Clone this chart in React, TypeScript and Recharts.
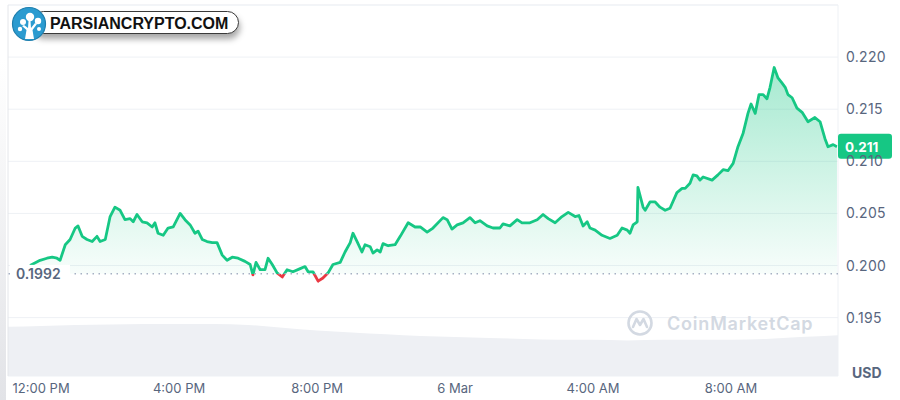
import React from 'react';
import {
  ComposedChart,
  Area,
  XAxis,
  YAxis,
  CartesianGrid,
  ReferenceLine,
} from 'recharts';

// hours after 12:00 PM (5 Mar) and price in USD
const priceHours = [
  -0.32, -0.03, 0.17, 0.32, 0.46, 0.55, 0.7, 0.84, 0.99, 1.07, 1.19, 1.33, 1.48, 1.62, 1.71, 1.86,
  2.0, 2.14, 2.29, 2.43, 2.58, 2.67, 2.78, 2.93, 3.07, 3.22, 3.3, 3.39, 3.54, 3.68, 3.83,
  4.03, 4.17, 4.32, 4.46, 4.55, 4.67, 4.81, 4.96, 5.1, 5.25, 5.39, 5.54, 5.71, 5.91,
  6.06, 6.14, 6.23, 6.35, 6.49, 6.58, 6.7, 6.84, 6.99, 7.13, 7.3, 7.51, 7.65, 7.74, 7.88,
  8.03, 8.17, 8.32, 8.46, 8.67, 8.81, 8.96, 9.04, 9.16, 9.3, 9.39, 9.54, 9.62, 9.74, 9.83, 9.91,
  10.06, 10.26, 10.41, 10.64, 10.84, 10.99, 11.19, 11.36, 11.65, 11.77, 11.91,
  12.06, 12.23, 12.43, 12.58, 12.72, 12.93, 13.1, 13.3, 13.39, 13.59, 13.8, 13.94,
  14.17, 14.38, 14.55, 14.7, 14.9, 15.1, 15.28, 15.48, 15.59, 15.71, 15.83, 15.91,
  16.06, 16.26, 16.49, 16.7, 16.84, 16.99, 17.07, 17.16, 17.28, 17.3, 17.45, 17.51, 17.65, 17.8, 17.94,
  18.09, 18.23, 18.43, 18.58, 18.67, 18.81, 18.9, 19.01, 19.1, 19.19, 19.45, 19.62, 19.77, 19.91,
  20.06, 20.2, 20.35, 20.49, 20.58, 20.7, 20.81, 20.93, 21.04, 21.13, 21.25, 21.36, 21.48, 21.57, 21.65, 21.77, 21.91,
  22.06, 22.23, 22.43, 22.58, 22.72, 22.81, 22.96, 23.07,
];

const priceValues = [
  0.2, 0.2005, 0.2007, 0.2008, 0.2007, 0.2005, 0.202, 0.2025, 0.2036, 0.2038, 0.2028, 0.2025, 0.2023, 0.2028, 0.2023, 0.2025,
  0.2047, 0.2056, 0.2053, 0.2044, 0.2045, 0.2042, 0.2049, 0.2042, 0.2041, 0.2037, 0.2041, 0.2031, 0.2029, 0.2036, 0.2037,
  0.205, 0.2044, 0.2039, 0.2031, 0.2033, 0.2025, 0.2023, 0.2022, 0.2022, 0.201, 0.2005, 0.2008, 0.2007, 0.2004,
  0.2001, 0.1991, 0.2003, 0.1996, 0.1996, 0.2007, 0.2001, 0.1993, 0.1989, 0.1996, 0.1994, 0.1997, 0.1999, 0.1994, 0.1994,
  0.1985, 0.1988, 0.1993, 0.2001, 0.2003, 0.2013, 0.2022, 0.2031, 0.2023, 0.2013, 0.202, 0.2018, 0.2012, 0.2015, 0.2013, 0.2021,
  0.2019, 0.202, 0.2028, 0.2041, 0.2037, 0.2037, 0.2032, 0.2036, 0.2046, 0.2044, 0.2035,
  0.2039, 0.2041, 0.2046, 0.2041, 0.2043, 0.2038, 0.2036, 0.2036, 0.204, 0.2038, 0.2044, 0.2041,
  0.2041, 0.2044, 0.2049, 0.2045, 0.2041, 0.2047, 0.2051, 0.2047, 0.2048, 0.2038, 0.2042, 0.2036,
  0.2034, 0.2029, 0.2026, 0.2029, 0.2036, 0.2034, 0.2031, 0.2039, 0.2042, 0.2075, 0.2056, 0.2053, 0.2061, 0.2061, 0.2056,
  0.2053, 0.2055, 0.207, 0.2074, 0.2074, 0.2079, 0.2087, 0.2086, 0.2082, 0.2085, 0.2082, 0.2087, 0.2092, 0.2091,
  0.2098, 0.2114, 0.2127, 0.2146, 0.2155, 0.2146, 0.2164, 0.2164, 0.216, 0.2171, 0.219, 0.218, 0.2175, 0.2171, 0.2164, 0.2161, 0.2151,
  0.2147, 0.2138, 0.2142, 0.2138, 0.2122, 0.2114, 0.2116, 0.2114,
];

// 24h volume, millions USD
const volumeHours = [-0.96, 0, 1, 2, 3, 4, 5, 6, 7, 8, 9, 10, 11, 12, 13, 14, 15, 16, 17, 18, 19, 20, 21, 22, 23.1];
const volumeValues = [26.5, 27, 27.5, 27.8, 28, 28, 28, 27.5, 26, 24.5, 23.5, 22.5, 21.5, 21, 20.5, 20, 19.5, 19.5, 19.2, 19.5, 19.5, 19.5, 20, 21, 22];

const timeTicks = [0, 4, 8, 12, 16, 20];
const timeLabels = ['12:00 PM', '4:00 PM', '8:00 PM', '6 Mar', '4:00 AM', '8:00 AM'];
const priceTicks = [0.195, 0.2, 0.205, 0.21, 0.215, 0.22];
const openPrice = 0.1992;
const openLabel = '0.1992';
const lastLabel = '0.211';

const priceData = priceHours.map((t, i) => ({ t, price: priceValues[i] }));
const volumeData = volumeHours.map((t, i) => ({ t, vol: volumeValues[i] }));
const lastPrice = priceValues[priceValues.length - 1];

const GREEN = '#16c784';
const RED = '#ea3943';
const GRAY = '#58667e';

const maxP = Math.max(...priceValues);
const minP = Math.min(...priceValues);
const split = (maxP - openPrice) / (maxP - minP);

const OpenLabel = (props: any) => {
  const { viewBox } = props;
  const y = viewBox.y;
  return (
    <g>
      <rect x={viewBox.x + 2} y={y - 9} width={60} height={18} fill="#fff" />
      <text x={viewBox.x + 8} y={y} dy={5} fill={GRAY} fontSize={14} fontWeight={600} fontFamily="Inter">
        {openLabel}
      </text>
    </g>
  );
};

const LastBadge = (props: any) => {
  const { viewBox } = props;
  const x = viewBox.x + viewBox.width;
  const y = viewBox.y;
  return (
    <g>
      <rect x={x} y={y - 13} width={54} height={25} rx={3} fill={GREEN} />
      <text x={x + 7} y={y} dy={5} fill="#fff" fontSize={13.5} fontWeight={700} fontFamily="Inter">
        {lastLabel}
      </text>
    </g>
  );
};

const Logo = () => (
  <div style={{ position: 'absolute', left: 10, top: 3, width: 240, height: 46 }}>
    <div
      style={{
        position: 'absolute',
        left: 22,
        top: 8,
        width: 205,
        height: 21,
        border: '1.5px solid #3a3a3a',
        borderRadius: 12,
        background: '#fff',
        boxShadow: '1px 5px 6px rgba(0,0,0,0.35)',
      }}
    />
    <svg width={40} height={42} style={{ position: 'absolute', left: 1, top: 3 }}>
      <circle cx={18} cy={18} r={16.5} fill="#2b9bd0" stroke="#1f7fae" strokeWidth={1.2} />
      <path d="M14 33 L15.5 24 L11 20 L13 19 L17 22 L17.5 15 L19.5 15 L20 22 L24 17 L26 18 L21.5 24 L23 33 Z" fill="#fff" />
      <circle cx={12} cy={16} r={3} fill="#fff" />
      <circle cx={19} cy={11} r={4.2} fill="#fff" />
      <circle cx={27} cy={15} r={3.2} fill="#fff" />
      <circle cx={9} cy={23} r={2.2} fill="#fff" />
      <circle cx={28} cy={23} r={2} fill="#fff" />
    </svg>
    <span
      style={{
        position: 'absolute',
        left: 40,
        top: 11,
        fontFamily: '"Liberation Sans", Arial, sans-serif',
        fontWeight: 700,
        fontSize: 16,
        lineHeight: '20px',
        color: '#111',
        whiteSpace: 'nowrap',
      }}
    >
      PARSIANCRYPTO.COM
    </span>
  </div>
);

const Watermark = () => (
  <div style={{ position: 'absolute', left: 625, top: 309, height: 28, display: 'flex', alignItems: 'center' }}>
    <svg width={30} height={28}>
      <circle cx={15} cy={14} r={11.5} fill="none" stroke="#d3d9e2" strokeWidth={2.6} />
      <path d="M8 18 L11.5 10 L15 16 L18.5 10 L22 18" fill="none" stroke="#d3d9e2" strokeWidth={2.6} strokeLinejoin="round" strokeLinecap="round" />
    </svg>
    <span
      style={{
        marginLeft: 12,
        fontFamily: 'Inter, sans-serif',
        fontWeight: 600,
        fontSize: 18,
        letterSpacing: 0.8,
        color: '#d3d9e2',
        whiteSpace: 'nowrap',
      }}
    >
      CoinMarketCap
    </span>
  </div>
);

export default function App() {
  return (
    <div style={{ position: 'absolute', left: 0, top: 0, width: 900, height: 400, background: '#fff', fontFamily: 'Inter, sans-serif' }}>
      <ComposedChart width={900} height={400} margin={{ top: 5, right: 0, left: 8, bottom: 0 }}>
        <defs>
          <linearGradient id="lineStroke" x1="0" y1="0" x2="0" y2="1">
            <stop offset={split} stopColor={GREEN} />
            <stop offset={split} stopColor={RED} />
          </linearGradient>
          <linearGradient id="areaFill" x1="0" y1="0" x2="0" y2="1">
            <stop offset="0%" stopColor={GREEN} stopOpacity={0.38} />
            <stop offset="100%" stopColor={GREEN} stopOpacity={0.02} />
          </linearGradient>
        </defs>
        <XAxis
          dataKey="t"
          type="number"
          domain={[-0.96, 23.1]}
          allowDataOverflow
          ticks={timeTicks}
          interval={0}
          tickFormatter={(v: number) => timeLabels[timeTicks.indexOf(v)]}
          axisLine={false}
          tickLine={false}
          height={24}
          tick={{ fill: GRAY, fontSize: 13, fontFamily: 'Inter' }}
        />
        <YAxis
          yAxisId="price"
          orientation="right"
          type="number"
          domain={[0.1894, 0.225]}
          allowDataOverflow
          ticks={priceTicks}
          tickFormatter={(v: number) => v.toFixed(3)}
          axisLine={false}
          tickLine={false}
          width={62}
          tick={{ fill: GRAY, fontSize: 14, fontFamily: 'Inter', textAnchor: 'start', letterSpacing: 0.3 }}
        />
        <YAxis yAxisId="vol" hide domain={[0, 200]} />
        <CartesianGrid yAxisId="price" vertical={false} stroke="#eef1f5" />
        <ReferenceLine yAxisId="price" y={0.225} stroke="#eef1f5" />
        <ReferenceLine yAxisId="price" x={23.1} stroke="#eef1f5" />
        <ReferenceLine yAxisId="price" x={-0.96} stroke="#e4e6ea" />
        <Area
          yAxisId="vol"
          data={volumeData}
          dataKey="vol"
          type="monotone"
          stroke="none"
          fill="#eef0f4"
          fillOpacity={1}
          isAnimationActive={false}
          dot={false}
          activeDot={false}
        />
        <ReferenceLine
          yAxisId="price"
          y={openPrice}
          stroke="#a6b0c3"
          strokeWidth={1.5}
          strokeDasharray="1.5 4.5"
          label={<OpenLabel />}
        />
        <Area
          yAxisId="price"
          data={priceData}
          dataKey="price"
          type="linear"
          baseValue={openPrice}
          stroke="url(#lineStroke)"
          strokeWidth={2.8}
          strokeLinejoin="round"
          fill="url(#areaFill)"
          fillOpacity={1}
          isAnimationActive={false}
          dot={false}
          activeDot={false}
        />
        <ReferenceLine yAxisId="price" y={lastPrice} stroke="none" label={<LastBadge />} />
      </ComposedChart>
      <div
        style={{
          position: 'absolute',
          left: 0,
          top: 0,
          width: 6,
          height: 400,
          background: 'linear-gradient(to bottom, #ffffff 15%, #e2e3e7 100%)',
        }}
      />
      <Logo />
      <Watermark />
      <div
        style={{
          position: 'absolute',
          left: 852,
          top: 364,
          fontFamily: 'Inter, sans-serif',
          fontWeight: 700,
          fontSize: 14,
          color: GRAY,
        }}
      >
        USD
      </div>
    </div>
  );
}
